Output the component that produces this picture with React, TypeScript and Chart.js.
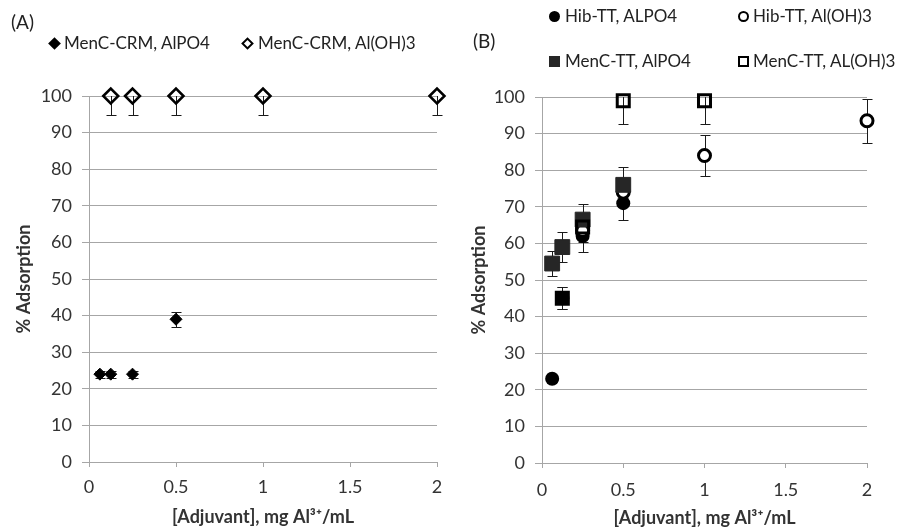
import React, { useEffect, useRef } from 'react';
import { Chart, registerables } from 'chart.js';

Chart.register(...registerables);

// ---------- shared axis values ----------
const xMin = 0;
const xMax = 2;
const xStep = 0.5;
const yMin = 0;
const yMax = 100;
const yStep = 10;
const xTitleText = '[Adjuvant], mg Al³⁺/mL';
const yTitleText = '% Adsorption';

// ---------- Panel A ----------
const aLabels = ['MenC-CRM, AlPO4', 'MenC-CRM, Al(OH)3'];
const aAlpo4X = [0.0625, 0.125, 0.25, 0.5];
const aAlpo4Y = [24, 24, 24, 39];
const aAlpo4Err = [1, 1, 1, 2];
const aAlohX = [0.125, 0.25, 0.5, 1, 2];
const aAlohY = [100, 100, 100, 100, 100];
const aAlohErr = [5.2, 5.2, 5.2, 5.2, 5.2];

// ---------- Panel B ----------
const bLabels = ['Hib-TT, ALPO4', 'Hib-TT, Al(OH)3', 'MenC-TT, AlPO4', 'MenC-TT, AL(OH)3'];
const bHibAlpo4X = [0.0625, 0.125, 0.25, 0.5];
const bHibAlpo4Y = [23, 45, 62, 71];
const bHibAlpo4Err = [1, 3, 4.3, 4.6];
const bHibAlohX = [0.25, 0.5, 1, 2];
const bHibAlohY = [63.5, 74, 84, 93.5];
const bHibAlohErr = [3, 3, 5.5, 6];
const bMenAlpo4X = [0.0625, 0.125, 0.25, 0.5];
const bMenAlpo4Y = [54.5, 59, 66.5, 76];
const bMenAlpo4Err = [3.5, 4, 4.3, 5];
const bMenAlohX = [0.125, 0.25, 0.5, 1];
const bMenAlohY = [45, 64.5, 99, 99];
const bMenAlohErr = [3, 3, 6.4, 6.4];

const FONT = 'Lato, "Open Sans", sans-serif';
const GRID = '#a6a6a6';
const TEXT = '#333333';
const INK = '#000000';

const pts = (xs: number[], ys: number[]) => xs.map((x, i) => ({ x, y: ys[i] }));

const errorBarPlugin = {
  id: 'errorBars',
  beforeDatasetsDraw(chart: any) {
    const { ctx, chartArea, scales } = chart;
    const x = scales.x;
    const y = scales.y;
    ctx.save();
    ctx.beginPath();
    ctx.rect(chartArea.left - 30, chartArea.top, chartArea.right - chartArea.left + 60, chartArea.bottom - chartArea.top);
    ctx.clip();
    ctx.strokeStyle = '#1a1a1a';
    ctx.lineWidth = 1;
    chart.data.datasets.forEach((ds: any) => {
      const errs: number[] | undefined = ds.errors;
      if (!errs) return;
      ds.data.forEach((p: any, i: number) => {
        const e = errs[i];
        if (!e) return;
        const px = Math.round(x.getPixelForValue(p.x)) + 0.5;
        const yT = Math.round(y.getPixelForValue(p.y + e)) + 0.5;
        const yB = Math.round(y.getPixelForValue(p.y - e)) + 0.5;
        const cap = 5;
        ctx.beginPath();
        ctx.moveTo(px, yT);
        ctx.lineTo(px, yB);
        ctx.moveTo(px - cap, yT);
        ctx.lineTo(px + cap, yT);
        ctx.moveTo(px - cap, yB);
        ctx.lineTo(px + cap, yB);
        ctx.stroke();
      });
    });
    ctx.restore();
  },
};

function makeOptions(p: {
  top: number;
  right: number;
  yWidth: number;
  xHeight: number;
  yTitlePad: number;
  xTitlePad: number;
  xTickPad: number;
}) {
  return {
    animation: false,
    responsive: false,
    maintainAspectRatio: false,
    events: [],
    layout: { padding: { top: p.top, right: p.right, left: 0, bottom: 0 } },
    plugins: { legend: { display: false }, tooltip: { enabled: false } },
    scales: {
      x: {
        type: 'linear',
        min: xMin,
        max: xMax,
        ticks: {
          stepSize: xStep,
          padding: p.xTickPad,
          color: TEXT,
          font: { family: FONT, size: 18 },
          callback: (v: any) => String(v),
        },
        grid: { drawOnChartArea: false, drawTicks: true, tickLength: 5, color: GRID },
        border: { color: GRID },
        title: {
          display: true,
          text: xTitleText,
          color: TEXT,
          font: { family: FONT, size: 18, weight: 'bold' },
          padding: { top: 0, bottom: p.xTitlePad },
        },
        afterFit: (s: any) => {
          s.height = p.xHeight;
        },
      },
      y: {
        type: 'linear',
        min: yMin,
        max: yMax,
        ticks: { stepSize: yStep, padding: 10, color: TEXT, font: { family: FONT, size: 18 } },
        grid: { color: GRID, tickLength: 7 },
        border: { color: GRID },
        title: {
          display: true,
          text: yTitleText,
          color: TEXT,
          font: { family: FONT, size: 18, weight: 'bold' },
          padding: { top: p.yTitlePad, bottom: 0 },
        },
        afterFit: (s: any) => {
          s.width = p.yWidth;
        },
      },
    },
  };
}

const box = (left: number, top: number, w: number, h: number, style: any = {}) => (
  <div style={{ position: 'absolute', left, top, width: w, height: h, boxSizing: 'border-box', ...style }} />
);

const txt = (left: number, cy: number, s: string, size = 17) => (
  <div
    style={{
      position: 'absolute',
      left,
      top: cy - 12,
      height: 24,
      lineHeight: '24px',
      fontFamily: FONT,
      fontSize: size,
      color: '#222',
      whiteSpace: 'nowrap',
    }}
  >
    {s}
  </div>
);

export default function App() {
  const refA = useRef<HTMLCanvasElement>(null);
  const refB = useRef<HTMLCanvasElement>(null);

  useEffect(() => {
    const chartA = new Chart(refA.current as HTMLCanvasElement, {
      type: 'scatter',
      data: {
        datasets: [
          {
            label: aLabels[0],
            data: pts(aAlpo4X, aAlpo4Y),
            errors: aAlpo4Err,
            pointStyle: 'rectRot',
            pointRadius: 6,
            backgroundColor: INK,
            borderColor: INK,
            borderWidth: 1,
            clip: false,
            order: 2,
          } as any,
          {
            label: aLabels[1],
            data: pts(aAlohX, aAlohY),
            errors: aAlohErr,
            pointStyle: 'rectRot',
            pointRadius: 7.5,
            backgroundColor: 'rgba(0,0,0,0)',
            borderColor: INK,
            borderWidth: 2.5,
            clip: false,
            order: 1,
          } as any,
        ],
      },
      options: makeOptions({ top: 96, right: 15, yWidth: 89, xHeight: 68, yTitlePad: 13, xTitlePad: 2, xTickPad: 9 }) as any,
      plugins: [errorBarPlugin],
    });

    const chartB = new Chart(refB.current as HTMLCanvasElement, {
      type: 'scatter',
      data: {
        datasets: [
          {
            label: bLabels[0],
            data: pts(bHibAlpo4X, bHibAlpo4Y),
            errors: bHibAlpo4Err,
            pointStyle: 'circle',
            pointRadius: 7,
            backgroundColor: INK,
            borderColor: INK,
            borderWidth: 0,
            clip: false,
            order: 4,
          } as any,
          {
            label: bLabels[1],
            data: pts(bHibAlohX, bHibAlohY),
            errors: bHibAlohErr,
            pointStyle: 'circle',
            pointRadius: 6,
            backgroundColor: '#ffffff',
            borderColor: INK,
            borderWidth: 3,
            clip: false,
            order: 3,
          } as any,
          {
            label: bLabels[2],
            data: pts(bMenAlpo4X, bMenAlpo4Y),
            errors: bMenAlpo4Err,
            pointStyle: 'rect',
            pointRadius: 10.5,
            backgroundColor: '#262626',
            borderColor: '#262626',
            borderWidth: 1,
            clip: false,
            order: 2,
          } as any,
          {
            label: bLabels[3],
            data: pts(bMenAlohX, bMenAlohY),
            errors: bMenAlohErr,
            pointStyle: 'rect',
            pointRadius: 8.5,
            backgroundColor: 'rgba(0,0,0,0)',
            borderColor: INK,
            borderWidth: 3,
            clip: false,
            order: 1,
          } as any,
        ],
      },
      options: makeOptions({ top: 97, right: 38, yWidth: 90, xHeight: 67, yTitlePad: 16, xTitlePad: 1, xTickPad: 11 }) as any,
      plugins: [errorBarPlugin],
    });

    return () => {
      chartA.destroy();
      chartB.destroy();
    };
  }, []);

  return (
    <div style={{ position: 'absolute', left: 0, top: 0, width: 905, height: 530, background: '#fff', overflow: 'hidden' }}>
      <canvas ref={refA} width={452} height={530} style={{ position: 'absolute', left: 0, top: 0, width: 452, height: 530 }} />
      <canvas ref={refB} width={453} height={530} style={{ position: 'absolute', left: 452, top: 0, width: 453, height: 530 }} />

      {/* Panel labels */}
      {txt(11, 22, '(A)', 19)}
      {txt(473, 41, '(B)', 19)}

      {/* Legend A */}
      {box(50, 39, 9, 9, { background: INK, transform: 'rotate(45deg)' })}
      {txt(64, 43, aLabels[0])}
      {box(243, 39, 9, 9, { border: '2px solid #000', transform: 'rotate(45deg)' })}
      {txt(258, 43, aLabels[1])}

      {/* Legend B */}
      {box(549, 11, 11, 11, { background: INK, borderRadius: '50%' })}
      {txt(565, 16, bLabels[0])}
      {box(738, 11, 11, 11, { border: '2px solid #000', borderRadius: '50%' })}
      {txt(753, 16, bLabels[1])}
      {box(549, 56, 11, 11, { background: '#262626' })}
      {txt(565, 61, bLabels[2])}
      {box(738, 56, 11, 11, { border: '2px solid #000' })}
      {txt(753, 61, bLabels[3])}
    </div>
  );
}
